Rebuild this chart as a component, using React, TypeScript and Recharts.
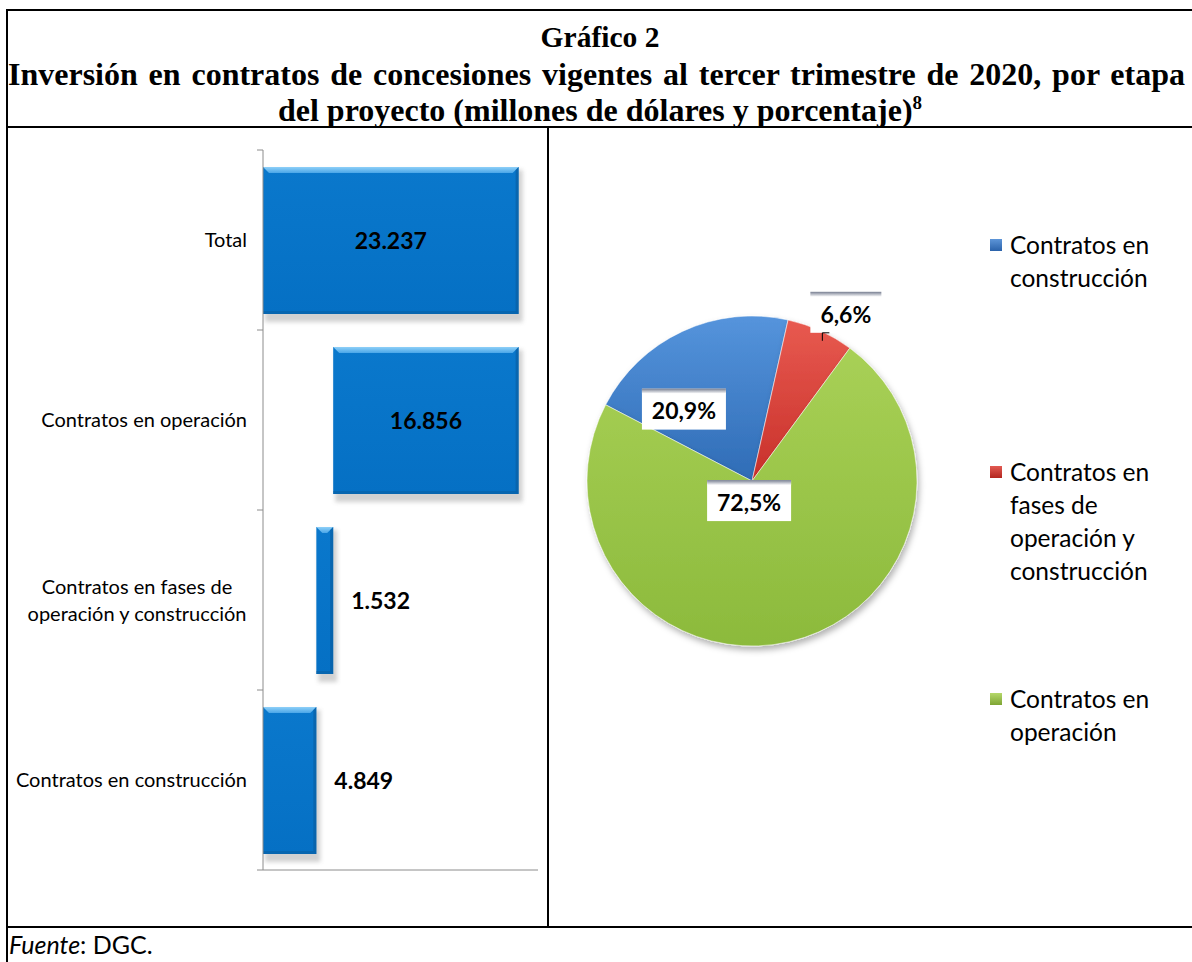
import React from 'react';
import { BarChart, Bar, XAxis, YAxis, LabelList, PieChart, Pie, Cell, Legend } from 'recharts';

// ---------- data ----------
const barCategories = [
  'Total',
  'Contratos en operación',
  'Contratos en fases de operación y construcción',
  'Contratos en construcción',
];
const stageNames = [
  'Contratos en construcción',
  'Contratos en fases de operación y construcción',
  'Contratos en operación',
];
const stageValues = [4849, 1532, 16856]; // millones de dólares
const totalValue = 23237;
const xTicks = [0, 10000, 20000];
const xDomainMax = 25000;

// waterfall built from the stage values
const stageStart = stageValues.map((_, i) => stageValues.slice(0, i).reduce((a, b) => a + b, 0));
const waterfallData = barCategories.map((name) => {
  const idx = stageNames.indexOf(name);
  if (idx < 0) return { name, base: 0, value: totalValue };
  return { name, base: stageStart[idx], value: stageValues[idx] };
});
const pieData = stageNames.map((name, i) => ({ name, value: stageValues[i] }));

// ---------- styles ----------
const SANS = 'Lato, "Noto Sans", sans-serif';
const SERIF = '"Liberation Serif", "Times New Roman", serif';
const AXIS = '#8c8c8c';
const pieFills = ['url(#gBlue)', 'url(#gRed)', 'url(#gGreen)'];
const legendFills = [
  'linear-gradient(#5d95d8, #2a62aa)',
  'linear-gradient(#e25a52, #b3261f)',
  'linear-gradient(#b5d86a, #7ea534)',
];
const labelPlacement = [
  { r: 0.6, dAngle: 18.5 },
  { r: 1.17, dAngle: -4.6 },
  { r: 0.12, dAngle: -21.5 },
];

const BAR_W = 539;
const BAR_H = 800;
const BAR_MARGIN = { top: 23, right: 10, bottom: 27, left: 0 };
const X_AXIS_H = 30;
const Y_AXIS_W = 254;
const PLOT_H = BAR_H - BAR_MARGIN.top - BAR_MARGIN.bottom - X_AXIS_H;
const BAND = PLOT_H / barCategories.length;

const fmtThousands = (v: number) => String(v).replace(/\B(?=(\d{3})+(?!\d))/g, '.');
const fmtPct = (v: number) => ((v / totalValue) * 100).toFixed(1).replace('.', ',') + '%';

let measureCtx: CanvasRenderingContext2D | null = null;
const measure = (text: string, font: string) => {
  if (!measureCtx) measureCtx = document.createElement('canvas').getContext('2d');
  if (!measureCtx) return text.length * 8;
  measureCtx.font = font;
  return measureCtx.measureText(text).width;
};

const wrapLabel = (s: string, max: number) => {
  const words = s.split(' ');
  const lines: string[] = [];
  let cur = '';
  words.forEach((w) => {
    const t = cur ? cur + ' ' + w : w;
    if (t.length > max && cur) {
      lines.push(cur);
      cur = w;
    } else cur = t;
  });
  if (cur) lines.push(cur);
  return lines;
};

const CAT_FONT = 20;
const YTick = (props: any) => {
  const { x, y, payload, index } = props;
  const axisX = x + 16;
  const half = BAND / 2;
  const lines = wrapLabel(String(payload.value), 25);
  const widths = lines.map((l) => measure(l, `${CAT_FONT}px ${SANS}`));
  const maxW = Math.max(...widths);
  const cx = x - maxW / 2;
  const lh = 27;
  const y0 = y - ((lines.length - 1) * lh) / 2;
  return (
    <g>
      <line x1={axisX - 6} x2={axisX} y1={y - half} y2={y - half} stroke={AXIS} strokeWidth={1} />
      {index === barCategories.length - 1 && (
        <line x1={axisX - 6} x2={axisX} y1={y + half} y2={y + half} stroke={AXIS} strokeWidth={1} />
      )}
      <text textAnchor="middle" fontFamily={SANS} fontSize={CAT_FONT} fill="#000">
        {lines.map((l, i) => (
          <tspan key={i} x={cx} y={y0 + i * lh} dy="0.35em">
            {l}
          </tspan>
        ))}
      </text>
    </g>
  );
};

const BevelBar = (props: any) => {
  const { x, y, width, height } = props;
  if (!width || width <= 0) return null;
  const b = Math.min(6, width / 2);
  return (
    <g>
      <rect x={x + 2} y={y + 3} width={width + 2} height={height + 5} fill="#9a9a9a" opacity={0.45} filter="url(#blurShadow)" />
      <rect x={x} y={y} width={width} height={height} fill="url(#gBar)" />
      <polygon
        points={`${x},${y} ${x + width},${y} ${x + width - b},${y + b} ${x + b},${y + b}`}
        fill="url(#gBevelTop)"
      />
      <polygon
        points={`${x + width},${y} ${x + width},${y + height} ${x + width - 3},${y + height - 3} ${x + width - 3},${y + 3}`}
        fill="#0a5b9c"
        opacity={0.6}
      />
      <polygon
        points={`${x},${y + height} ${x + width},${y + height} ${x + width - 3},${y + height - 3} ${x},${y + height - 3}`}
        fill="#0a5b9c"
        opacity={0.5}
      />
    </g>
  );
};

const BarValueLabel = (props: any) => {
  const { x, y, width, height, value } = props;
  const inside = width > 100;
  const tx = inside ? x + width / 2 : x + width + 18;
  return (
    <text
      x={tx}
      y={y + height / 2}
      dy="0.36em"
      textAnchor={inside ? 'middle' : 'start'}
      fontFamily={SANS}
      fontWeight={700}
      fontSize={23}
      fill="#000"
    >
      {fmtThousands(value)}
    </text>
  );
};

const RAD = Math.PI / 180;
const PieLabel = (props: any) => {
  const { cx, cy, midAngle, outerRadius, index, value } = props;
  const pl = labelPlacement[index];
  const ang = midAngle + pl.dAngle;
  const r = outerRadius * pl.r;
  const lx = cx + r * Math.cos(-ang * RAD);
  const ly = cy + r * Math.sin(-ang * RAD);
  const text = fmtPct(value);
  const w = text.length * 13 + 19;
  const h = 41;
  const bx = lx - w / 2;
  const by = ly - h / 2;
  return (
    <g>
      <rect x={bx} y={by} width={w} height={h} fill="#ffffff" />
      <rect x={bx} y={by} width={w} height={5} fill="url(#gStrip)" />
      {pl.r > 1 && (
        <path
          d={`M${bx + 19},${by + h} L${bx + 12},${by + h} L${bx + 12},${by + h + 8}`}
          stroke="#000"
          strokeWidth={1}
          fill="none"
        />
      )}
      <text x={lx} y={ly + 2} dy="0.36em" textAnchor="middle" fontFamily={SANS} fontWeight={700} fontSize={23} fill="#000">
        {text}
      </text>
    </g>
  );
};

const renderLegend = (props: any) => {
  const payload = props.payload || [];
  return (
    <div style={{ fontFamily: SANS, fontSize: 24.5, lineHeight: '33px', color: '#000' }}>
      {payload.map((p: any, i: number) => (
        <div
          key={i}
          style={{ height: i < payload.length - 1 ? 227 : 'auto', display: 'flex', alignItems: 'flex-start' }}
        >
          <div
            style={{
              width: 12,
              height: 12,
              marginTop: 11,
              marginRight: 8,
              background: legendFills[i],
              flex: '0 0 auto',
            }}
          />
          <div style={{ width: 165, textAlign: 'left' }}>{p.value}</div>
        </div>
      ))}
    </div>
  );
};

const line = (style: React.CSSProperties) => (
  <div style={{ position: 'absolute', background: '#000', ...style }} />
);

const titleStyle: React.CSSProperties = {
  position: 'absolute',
  fontFamily: SERIF,
  fontWeight: 700,
  fontSize: 32,
  lineHeight: '32px',
  whiteSpace: 'nowrap',
  color: '#000',
};

export default function App() {
  return (
    <div
      style={{
        position: 'absolute',
        left: 0,
        top: 0,
        width: 1192,
        height: 962,
        overflow: 'hidden',
        background: '#fff',
      }}
    >
      <svg width={0} height={0} style={{ position: 'absolute' }}>
        <defs>
          <linearGradient id="gBar" x1="0" y1="0" x2="0" y2="1">
            <stop offset="0%" stopColor="#0a78cc" />
            <stop offset="100%" stopColor="#0570c4" />
          </linearGradient>
          <linearGradient id="gBevelTop" x1="0" y1="0" x2="0" y2="1">
            <stop offset="0%" stopColor="#8fd0f8" />
            <stop offset="100%" stopColor="#4aa6e8" />
          </linearGradient>
          <linearGradient id="gStrip" x1="0" y1="0" x2="0" y2="1">
            <stop offset="0%" stopColor="#767d90" />
            <stop offset="100%" stopColor="#ffffff" />
          </linearGradient>
          <linearGradient id="gBlue" x1="0" y1="0" x2="0" y2="1">
            <stop offset="0%" stopColor="#5594dc" />
            <stop offset="100%" stopColor="#2f6cb6" />
          </linearGradient>
          <linearGradient id="gRed" x1="0" y1="0" x2="0" y2="1">
            <stop offset="0%" stopColor="#e85a50" />
            <stop offset="100%" stopColor="#c8302a" />
          </linearGradient>
          <linearGradient id="gGreen" x1="0" y1="0" x2="0" y2="1">
            <stop offset="0%" stopColor="#a8d056" />
            <stop offset="100%" stopColor="#8cba3c" />
          </linearGradient>
          <filter id="blurShadow" x="-20%" y="-20%" width="140%" height="140%">
            <feGaussianBlur stdDeviation="2" />
          </filter>
          <filter id="pieShadow" x="-20%" y="-20%" width="140%" height="140%">
            <feDropShadow dx="2" dy="4" stdDeviation="3" floodColor="#000" floodOpacity="0.3" />
          </filter>
        </defs>
      </svg>

      {/* title */}
      <div style={{ ...titleStyle, fontSize: 29.5, left: 8, top: 21, width: 1184, textAlign: 'center' }}>Gráfico 2</div>
      <div
        style={{
          ...titleStyle,
          left: 8,
          top: 58,
          width: 1177,
          textAlign: 'justify',
          textAlignLast: 'justify',
          whiteSpace: 'normal',
        }}
      >
        Inversión en contratos de concesiones vigentes al tercer trimestre de 2020, por etapa
      </div>
      <div style={{ ...titleStyle, left: 8, top: 94, width: 1184, textAlign: 'center' }}>
        del proyecto (millones de dólares y porcentaje)
        <span style={{ fontSize: 19, verticalAlign: 'top', lineHeight: '18px', position: 'relative', top: 0 }}>8</span>
      </div>

      {/* bar chart */}
      <div style={{ position: 'absolute', left: 9, top: 127 }}>
        <BarChart
          width={BAR_W}
          height={BAR_H}
          data={waterfallData}
          layout="vertical"
          margin={BAR_MARGIN}
          barSize={147}
        >
          <XAxis
            type="number"
            domain={[0, xDomainMax]}
            ticks={xTicks}
            allowDataOverflow
            height={X_AXIS_H}
            axisLine={{ stroke: AXIS }}
            tickLine={{ stroke: AXIS }}
            tickSize={6}
            tick={false}
          />
          <YAxis
            type="category"
            dataKey="name"
            width={Y_AXIS_W}
            axisLine={{ stroke: AXIS }}
            tickLine={false}
            tickSize={6}
            tickMargin={10}
            tick={<YTick />}
            interval={0}
          />
          <Bar dataKey="base" stackId="w" fill="none" isAnimationActive={false} />
          <Bar dataKey="value" stackId="w" fill="#0570c4" shape={<BevelBar />} isAnimationActive={false}>
            <LabelList dataKey="value" content={<BarValueLabel />} />
          </Bar>
        </BarChart>
      </div>

      {/* pie chart */}
      <div style={{ position: 'absolute', left: 548, top: 127 }}>
        <PieChart width={645} height={800} margin={{ top: 0, right: 0, bottom: 0, left: 0 }}>
          <Pie
            data={pieData}
            dataKey="value"
            nameKey="name"
            cx={204}
            cy={354}
            outerRadius={165}
            startAngle={152.5}
            endAngle={-207.5}
            label={PieLabel}
            labelLine={false}
            isAnimationActive={false}
            stroke="#ffffff"
            strokeOpacity={0.5}
            strokeWidth={1}
          >
            {pieData.map((_, i) => (
              <Cell key={i} fill={pieFills[i]} style={{ filter: 'url(#pieShadow)' }} />
            ))}
          </Pie>
          <Legend
            layout="vertical"
            align="right"
            verticalAlign="top"
            content={renderLegend}
            wrapperStyle={{ left: 442, top: 101, width: 200, right: 'auto' }}
          />
        </PieChart>
      </div>

      {/* table borders */}
      {line({ left: 6, top: 9, width: 1190, height: 2 })}
      {line({ left: 6, top: 126, width: 1190, height: 2 })}
      {line({ left: 6, top: 926, width: 1190, height: 2 })}
      {line({ left: 6, top: 9, width: 2, height: 960 })}
      {line({ left: 547, top: 126, width: 2, height: 802 })}

      {/* footer */}
      <div
        style={{
          position: 'absolute',
          left: 9,
          top: 929,
          fontFamily: SANS,
          fontSize: 25,
          lineHeight: '30px',
          color: '#000',
          whiteSpace: 'nowrap',
        }}
      >
        <i>Fuente</i>: DGC.
      </div>
    </div>
  );
}
